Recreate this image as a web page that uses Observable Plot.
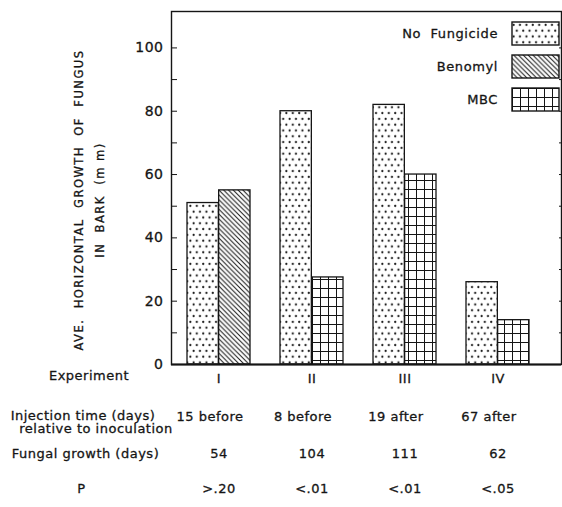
<!DOCTYPE html>
<html>
<head>
<meta charset="utf-8">
<script src="https://cdn.jsdelivr.net/npm/d3@7"></script>
<script src="https://cdn.jsdelivr.net/npm/@observablehq/plot@0.6"></script>
<style>
  body { margin: 0; background: #fff; }
  #wrap { position: relative; width: 562px; height: 507px; font-family: "DejaVu Sans", sans-serif; }
  #wrap svg text { letter-spacing: 0.5px; stroke: #151515; stroke-width: 0.3px; }
  #legend { position: absolute; left: 0; top: 0; pointer-events: none; }
</style>
</head>
<body>
<svg width="0" height="0" style="position:absolute">
  <defs>
    <pattern id="pat-dots" patternUnits="userSpaceOnUse" width="6.4" height="11.6">
      <rect width="6.4" height="11.6" fill="#fff"/>
      <circle cx="1.6" cy="2.9" r="1.1" fill="#151515"/>
      <circle cx="4.8" cy="8.7" r="1.1" fill="#151515"/>
    </pattern>
    <pattern id="pat-hatch" patternUnits="userSpaceOnUse" width="4.8" height="4.8">
      <rect width="4.8" height="4.8" fill="#fff"/>
      <path d="M-1,-1 L5.8,5.8 M-1,3.8 L1,5.8 M3.8,-1 L5.8,1" stroke="#151515" stroke-width="1"/>
    </pattern>
    <pattern id="pat-grid" patternUnits="userSpaceOnUse" width="8" height="9">
      <rect width="8" height="9" fill="#fff"/>
      <path d="M0.5,0 V9 M0,0.5 H8" stroke="#151515" stroke-width="1"/>
    </pattern>
  </defs>
</svg>
<div id="wrap"></div>
<script>
// ---- data ----
const experiments = ["I", "II", "III", "IV"];
const treatments = ["No Fungicide", "Benomyl", "MBC"];
const treatmentPatterns = ["url(#pat-dots)", "url(#pat-hatch)", "url(#pat-grid)"];
const legendLabels = ["No\u00a0\u00a0Fungicide", "Benomyl", "MBC"];

const barExperiment = ["I", "I", "II", "II", "III", "III", "IV", "IV"];
const barTreatment = ["No Fungicide", "Benomyl", "No Fungicide", "MBC", "No Fungicide", "MBC", "No Fungicide", "MBC"];
const barValue = [51, 55, 80, 27.5, 82, 60, 26, 14];

const yMajorTicks = [0, 20, 40, 60, 80, 100];
const yMinorTicks = [10, 30, 50, 70, 90];
const rightTicks = [10, 20, 30, 40, 50, 60, 70, 80, 90, 100];

const injectionTime = ["15 before", "8 before", "19 after", "67 after"];
const fungalGrowthDays = ["54", "104", "111", "62"];
const pValues = [">.20", "<.01", "<.01", "<.05"];

const yTitle = "AVE.\u00a0 HORIZONTAL\u00a0 GROWTH\u00a0 OF\u00a0 FUNGUS\nIN\u00a0 BARK\u00a0 (m m)";

// ---- layout ----
const W = 562, H = 507;
const M = {top: 11, right: 1, bottom: 143, left: 171};
const FONT = "DejaVu Sans, sans-serif";
const INK = "#151515";
const xOpts = {paddingInner: 0.324, paddingOuter: 0.244, align: 0.33};

const bars = barExperiment.map((e, i) => ({
  experiment: e, treatment: barTreatment[i], value: barValue[i],
  slot: barExperiment.slice(0, i).filter(v => v === e).length
}));
const half = d3.scaleBand().domain(experiments).range([M.left, W - M.right])
  .paddingInner(xOpts.paddingInner).paddingOuter(xOpts.paddingOuter).align(xOpts.align).bandwidth() / 2;

const rowLabel = (label, dx, dy) =>
  Plot.text([label], {frameAnchor: "bottom-left", text: d => d, textAnchor: "middle", dx, dy});

const chart = Plot.plot({
  width: W, height: H,
  marginTop: M.top, marginRight: M.right, marginBottom: M.bottom, marginLeft: M.left,
  style: {fontFamily: FONT, fontSize: "13px", color: INK, background: "white", overflow: "visible"},
  x: {domain: experiments, ...xOpts, axis: null},
  y: {domain: [0, 111.5], axis: null},
  color: {domain: treatments, range: treatmentPatterns},
  marks: [
    Plot.barY(bars.filter(d => d.slot === 0), {x: "experiment", y: "value", fill: "treatment", stroke: INK, strokeWidth: 1.3, insetRight: half}),
    Plot.barY(bars.filter(d => d.slot === 1), {x: "experiment", y: "value", fill: "treatment", stroke: INK, strokeWidth: 1.3, insetLeft: half}),
    Plot.frame({stroke: INK, strokeWidth: 1.4}),
    Plot.ruleY([0], {stroke: INK, strokeWidth: 1.8}),
    Plot.axisY({ticks: yMajorTicks, tickSize: -6, tickPadding: 14, fontSize: 14, label: null}),
    Plot.axisY({ticks: yMinorTicks, tickSize: -6, tickFormat: () => "", label: null}),
    Plot.axisY({anchor: "right", ticks: rightTicks, tickSize: -3, tickFormat: () => "", label: null}),
    Plot.axisX({tickSize: 0, tickPadding: 9, fontSize: 13, label: null}),
    Plot.text([yTitle], {frameAnchor: "left", text: d => d, textAnchor: "middle", rotate: -90, dx: -85, dy: 12, fontSize: 11.5, lineHeight: 1.9}),
    rowLabel("Experiment", -82.5, 15),
    rowLabel("Injection time (days)", -88.5, 55),
    rowLabel("relative to inoculation", -75.5, 68.5),
    rowLabel("Fungal growth (days)", -86, 93),
    rowLabel("P", -90, 128),
    Plot.text(experiments, {x: d => d, text: injectionTime, frameAnchor: "bottom", dx: -9, dy: 56}),
    Plot.text(experiments, {x: d => d, text: fungalGrowthDays, frameAnchor: "bottom", dy: 93}),
    Plot.text(experiments, {x: d => d, text: pValues, frameAnchor: "bottom", dy: 128})
  ]
});
document.getElementById("wrap").appendChild(chart);
d3.select(chart).selectAll("text").filter(function () { return this.textContent.startsWith("AVE"); })
  .style("letter-spacing", "1.5px");

// ---- legend (inside the frame, top right) ----
const leg = d3.select("#wrap").append("svg").attr("id", "legend").attr("width", W).attr("height", H)
  .style("font-family", FONT).style("font-size", "13px");
const row = leg.selectAll("g").data(treatments).join("g")
  .attr("transform", (d, i) => `translate(0,${22 + i * 33})`);
row.append("rect").attr("x", 512).attr("y", 0).attr("width", 47).attr("height", 23)
  .attr("fill", (d, i) => treatmentPatterns[i]).attr("stroke", INK).attr("stroke-width", 1.4);
row.append("text").attr("x", 498).attr("y", 11.5).attr("dy", "0.35em").attr("text-anchor", "end")
  .attr("fill", INK).style("letter-spacing", "0.6px").text((d, i) => legendLabels[i]);
</script>
</body>
</html>
